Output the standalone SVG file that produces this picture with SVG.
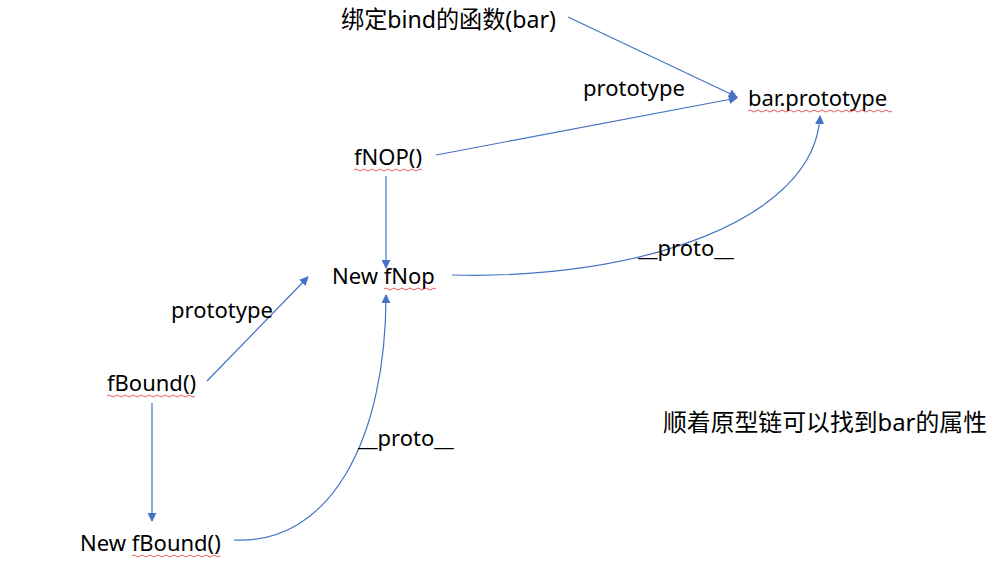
<svg xmlns="http://www.w3.org/2000/svg" width="995" height="568" viewBox="0 0 995 568">
<defs>
<marker id="ah" viewBox="0 0 10 10" refX="9" refY="5" markerWidth="9" markerHeight="9" markerUnits="userSpaceOnUse" orient="auto">
<path d="M0,0 L10,5 L0,10 z" fill="#4472C4"/>
</marker>
<style>
.t{font-family:"Noto Sans","Noto Sans CJK SC",sans-serif;font-size:22px;fill:#000}
.z{font-size:23.5px}
.c{fill:none;stroke:#4472C4;stroke-width:1.2}
.sq{fill:none;stroke:#e03030;stroke-width:0.8}
</style>
</defs>
<rect width="995" height="568" fill="#fff"/>
<g id="connectors">
<line class="c" x1="568" y1="17" x2="737" y2="97" marker-end="url(#ah)"/>
<line class="c" x1="436" y1="155" x2="737" y2="98" marker-end="url(#ah)"/>
<line class="c" x1="386" y1="176" x2="386" y2="268" marker-end="url(#ah)"/>
<path class="c" d="M452,275 C640,280 815,220 820,116" marker-end="url(#ah)"/>
<line class="c" x1="207" y1="381" x2="308" y2="277" marker-end="url(#ah)"/>
<line class="c" x1="152" y1="403" x2="152" y2="521" marker-end="url(#ah)"/>
<path class="c" d="M234,540 C330,545 386,440 386,295" marker-end="url(#ah)"/>
</g>
<g id="bar-fn"><text class="t z" x="341" y="28" textLength="215" lengthAdjust="spacingAndGlyphs">绑定bind的函数(bar)</text></g>
<g id="bar-prototype"><text class="t" x="748" y="106">bar.prototype</text>
<path class="sq" d="M748,111 q2,-2 4,0 t4,0 t4,0 t4,0 t4,0 t4,0 t4,0 t4,0 t4,0 t4,0 t4,0 t4,0 t4,0 t4,0 t4,0 t4,0 t4,0 t4,0 t4,0 t4,0 t4,0 t4,0 t4,0 t4,0 t4,0 t4,0 t4,0 t4,0 t4,0 t4,0 t4,0 t4,0 t4,0 t4,0 t4,0 t4,0"/></g>
<g id="label-prototype-1"><text class="t" x="583" y="96">prototype</text></g>
<g id="fNOP"><text class="t" x="354" y="165">fNOP()</text>
<path class="sq" d="M354,170 q2,-2 4,0 t4,0 t4,0 t4,0 t4,0 t4,0 t4,0 t4,0 t4,0 t4,0 t4,0 t4,0 t4,0 t4,0 t4,0 t4,0 t4,0"/></g>
<g id="new-fNop"><text class="t" x="332" y="284">New fNop</text>
<path class="sq" d="M384,289 q2,-2 4,0 t4,0 t4,0 t4,0 t4,0 t4,0 t4,0 t4,0 t4,0 t4,0 t4,0 t4,0 t4,0"/></g>
<g id="label-proto-1"><text class="t" x="638" y="256">__proto__</text></g>
<g id="label-prototype-2"><text class="t" x="171" y="318">prototype</text></g>
<g id="fBound"><text class="t" x="107" y="391">fBound()</text>
<path class="sq" d="M107,396 q2,-2 4,0 t4,0 t4,0 t4,0 t4,0 t4,0 t4,0 t4,0 t4,0 t4,0 t4,0 t4,0 t4,0 t4,0 t4,0 t4,0 t4,0 t4,0 t4,0 t4,0 t4,0 t4,0"/></g>
<g id="label-proto-2"><text class="t" x="358" y="446">__proto__</text></g>
<g id="new-fBound"><text class="t" x="80" y="551">New fBound()</text>
<path class="sq" d="M132,556 q2,-2 4,0 t4,0 t4,0 t4,0 t4,0 t4,0 t4,0 t4,0 t4,0 t4,0 t4,0 t4,0 t4,0 t4,0 t4,0 t4,0 t4,0 t4,0 t4,0 t4,0 t4,0 t4,0"/></g>
<g id="note"><text class="t z" x="663" y="431" textLength="324" lengthAdjust="spacingAndGlyphs">顺着原型链可以找到bar的属性</text></g>
</svg>
